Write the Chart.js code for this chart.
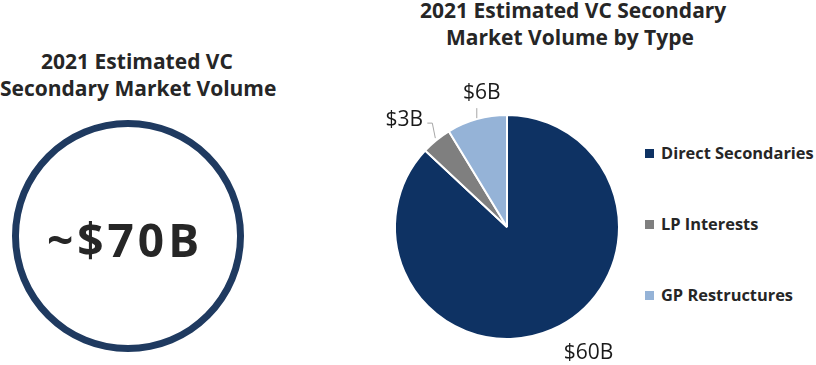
<!DOCTYPE html>
<html>
<head>
  <title>VC Secondary Market Volume</title>
  <script src="https://cdn.jsdelivr.net/npm/chart.js@4.4.0/dist/chart.umd.min.js"></script>
  <style>
    body {
      margin: 0;
      width: 816px;
      height: 365px;
      background: #fff;
      font-family: "Open Sans", Lato, sans-serif;
      color: #262626;
      position: relative;
      overflow: hidden;
    }
    .title {
      position: absolute;
      text-align: center;
      font-weight: bold;
      font-size: 21px;
      line-height: 27px;
      white-space: nowrap;
    }
    #leftTitle { left: 0; width: 274px; top: 48px; }
    #rightTitle { left: 420px; width: 300px; top: -3px; }
    #totalText {
      position: absolute;
      left: 5px;
      width: 240px;
      top: 214px;
      text-align: center;
      font-weight: bold;
      font-size: 46px;
      letter-spacing: 4px;
      line-height: 50px;
    }
    #totalWrap { position: absolute; left: 8px; top: 116px; width: 240px; height: 240px; }
    #pieWrap { position: absolute; left: 370px; top: 60px; width: 270px; height: 305px; }
    #legend {
      position: absolute;
      left: 645px;
      top: 0;
      list-style-type: none;
      margin: 0;
      padding: 0;
    }
    .legend-item {
      position: absolute;
      white-space: nowrap;
      font-weight: bold;
      font-size: 16.4px;
      line-height: 20px;
    }
    .legend-box {
      display: inline-block;
      width: 9px;
      height: 9px;
      margin-right: 7px;
      vertical-align: 1px;
    }
  </style>
</head>
<body>

<div id="leftTitle" class="title">2021 Estimated VC<br>Secondary Market Volume</div>
<div id="rightTitle" class="title">2021 Estimated VC Secondary<br>Market Volume by Type</div>

<div id="totalWrap"><canvas id="totalChart"></canvas></div>
<div id="totalText"></div>

<div id="pieWrap"><canvas id="pieChart"></canvas></div>
<ul id="legend"></ul>

<script>
  // data ($B)
  const totalVolume = 70;
  const totalLabel = '~$70B';

  const types = ['Direct Secondaries', 'LP Interests', 'GP Restructures'];
  const volumes = [60, 3, 6];
  const volumeLabels = ['$60B', '$3B', '$6B'];
  const typeColors = ['#0e3263', '#7f7f7f', '#95b3d7'];

  Chart.defaults.font.family = '"Open Sans", Lato, sans-serif';

  // left: single ring
  document.getElementById('totalText').textContent = totalLabel;
  new Chart(document.getElementById('totalChart'), {
    type: 'doughnut',
    data: {
      labels: ['Total'],
      datasets: [{
        data: [totalVolume],
        backgroundColor: '#1f3a60',
        borderWidth: 0,
        cutout: '94%'
      }]
    },
    options: {
      responsive: true,
      maintainAspectRatio: false,
      animation: false,
      layout: { padding: 4 },
      plugins: { legend: { display: false }, tooltip: { enabled: false } },
      events: []
    }
  });

  // label offsets from each slice's outer mid point, with optional leader line
  const labelPlacement = [
    { dx: 37, dy: 23, leader: null },
    { dx: -32, dy: -20, leader: [[-1, -2], [-4, -17], [-9, -17]] },
    { dx: 5, dy: -26, leader: [[0, -1], [0, -11]] }
  ];

  const sliceLabels = {
    id: 'sliceLabels',
    afterDatasetsDraw(chart) {
      const ctx = chart.ctx;
      const meta = chart.getDatasetMeta(0);
      ctx.save();
      meta.data.forEach((arc, i) => {
        const p = arc.getProps(['x', 'y', 'startAngle', 'endAngle', 'outerRadius'], true);
        const mid = (p.startAngle + p.endAngle) / 2;
        const ex = p.x + Math.cos(mid) * p.outerRadius;
        const ey = p.y + Math.sin(mid) * p.outerRadius;
        const place = labelPlacement[i];
        if (place.leader) {
          ctx.strokeStyle = '#a6a6a6';
          ctx.lineWidth = 1;
          ctx.beginPath();
          place.leader.forEach((pt, k) => {
            if (k === 0) ctx.moveTo(ex + pt[0], ey + pt[1]);
            else ctx.lineTo(ex + pt[0], ey + pt[1]);
          });
          ctx.stroke();
        }
        ctx.fillStyle = '#1a1a1a';
        ctx.font = '21px "Open Sans", Lato, sans-serif';
        ctx.textAlign = 'center';
        ctx.textBaseline = 'middle';
        ctx.fillText(volumeLabels[i], ex + place.dx, ey + place.dy);
      });
      ctx.restore();
    }
  };

  new Chart(document.getElementById('pieChart'), {
    type: 'pie',
    data: {
      labels: types,
      datasets: [{
        data: volumes,
        backgroundColor: typeColors,
        borderColor: '#ffffff',
        borderWidth: 2
      }]
    },
    options: {
      responsive: true,
      maintainAspectRatio: false,
      animation: false,
      layout: { padding: { left: 24, right: 20, top: 54, bottom: 25 } },
      plugins: { legend: { display: false }, tooltip: { enabled: false } },
      events: []
    },
    plugins: [sliceLabels]
  });

  // legend
  const legendTops = [143, 214, 285];
  const legend = document.getElementById('legend');
  types.forEach(function(t, i) {
    const li = document.createElement('li');
    li.className = 'legend-item';
    li.style.top = legendTops[i] + 'px';
    const box = document.createElement('span');
    box.className = 'legend-box';
    box.style.backgroundColor = typeColors[i];
    li.appendChild(box);
    li.appendChild(document.createTextNode(t));
    legend.appendChild(li);
  });
</script>

</body>
</html>
